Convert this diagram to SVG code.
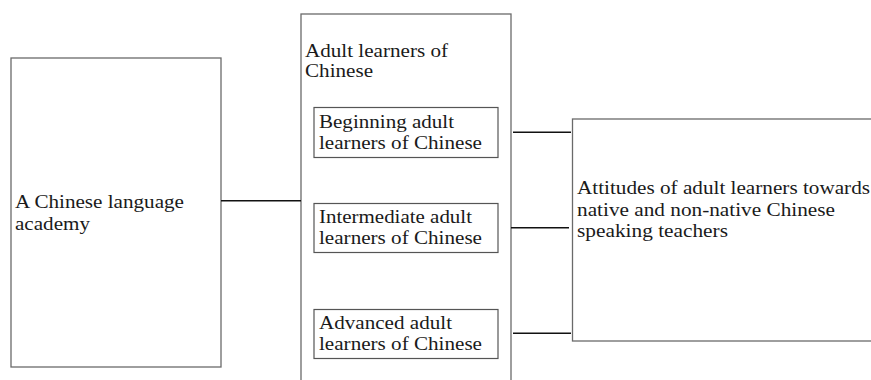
<svg xmlns="http://www.w3.org/2000/svg" width="871" height="380" viewBox="0 0 871 380">
<style>
.box{fill:#fff;stroke:#6a6a6a;stroke-width:1.3}
.ibox{fill:#fff;stroke:#555;stroke-width:1.2}
text{font-family:'Liberation Serif',serif;font-size:19px;fill:#1a1a1a}
.c{stroke:#111;stroke-width:1.6;fill:none}
</style>
<rect width="871" height="380" fill="#fff"/>
<g id="academy">
<rect class="box" x="11" y="58" width="210" height="309"/>
<text x="15" y="208" textLength="169" lengthAdjust="spacingAndGlyphs">A Chinese language</text>
<text x="15" y="230" textLength="75" lengthAdjust="spacingAndGlyphs">academy</text>
</g>
<g id="learners">
<rect class="box" x="301" y="14" width="210" height="380"/>
<text x="305" y="57" textLength="143" lengthAdjust="spacingAndGlyphs">Adult learners of</text>
<text x="305" y="77" textLength="68" lengthAdjust="spacingAndGlyphs">Chinese</text>
</g>
<g id="beginning">
<rect class="ibox" x="314" y="107.5" width="184" height="50"/>
<text x="319" y="128" textLength="135" lengthAdjust="spacingAndGlyphs">Beginning adult</text>
<text x="319" y="149" textLength="163" lengthAdjust="spacingAndGlyphs">learners of Chinese</text>
</g>
<g id="intermediate">
<rect class="ibox" x="314" y="203.5" width="184" height="49"/>
<text x="319" y="223" textLength="153" lengthAdjust="spacingAndGlyphs">Intermediate adult</text>
<text x="319" y="244" textLength="163" lengthAdjust="spacingAndGlyphs">learners of Chinese</text>
</g>
<g id="advanced">
<rect class="ibox" x="314" y="309.5" width="184" height="49"/>
<text x="319" y="329" textLength="133" lengthAdjust="spacingAndGlyphs">Advanced adult</text>
<text x="319" y="350" textLength="163" lengthAdjust="spacingAndGlyphs">learners of Chinese</text>
</g>
<g id="attitudes">
<rect class="box" x="572.5" y="119" width="310" height="222"/>
<text x="577" y="194" textLength="293" lengthAdjust="spacingAndGlyphs">Attitudes of adult learners towards</text>
<text x="577" y="215.5" textLength="258" lengthAdjust="spacingAndGlyphs">native and non-native Chinese</text>
<text x="577" y="236.5" textLength="151" lengthAdjust="spacingAndGlyphs">speaking teachers</text>
</g>
<g id="connectors">
<line class="c" x1="221" y1="200.7" x2="301" y2="200.7"/>
<line class="c" x1="513" y1="132.3" x2="571" y2="132.3"/>
<line class="c" x1="511" y1="227.7" x2="569" y2="227.7"/>
<line class="c" x1="513" y1="333.3" x2="571" y2="333.3"/>
</g>
</svg>
